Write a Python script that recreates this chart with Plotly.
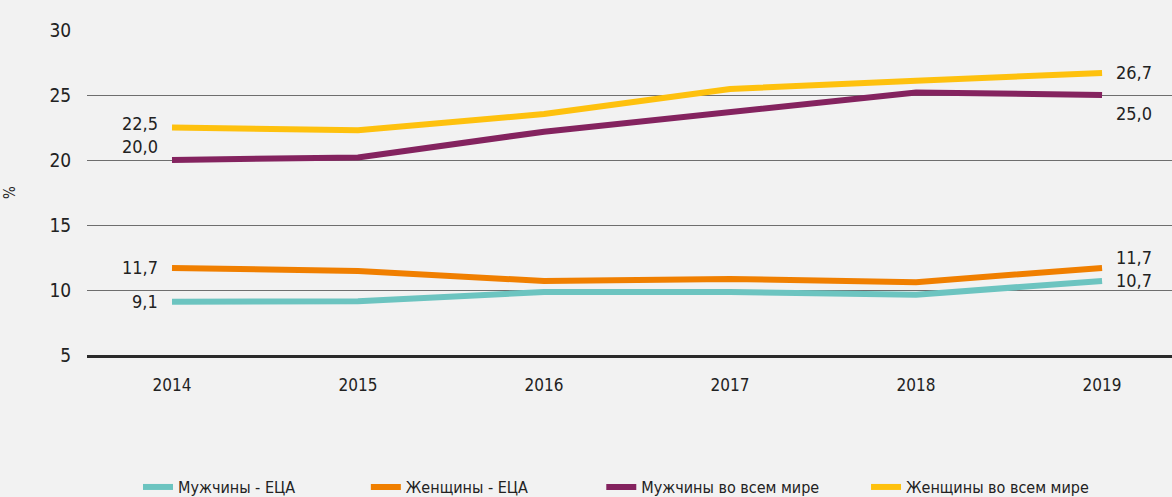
import plotly.graph_objects as go

years = [2014, 2015, 2016, 2017, 2018, 2019]
men_eca = [9.1, 9.13, 9.85, 9.85, 9.64, 10.7]
women_eca = [11.7, 11.46, 10.69, 10.85, 10.6, 11.7]
men_world = [20.0, 20.2, 22.18, 23.7, 25.2, 25.0]
women_world = [22.5, 22.28, 23.54, 25.46, 26.1, 26.7]

names = ["Мужчины - ЕЦА", "Женщины - ЕЦА", "Мужчины во всем мире", "Женщины во всем мире"]
colors = ["#6cc4c0", "#f07f00", "#84235f", "#fec10e"]
series = [men_eca, women_eca, men_world, women_world]
y_ticks = [5, 10, 15, 20, 25, 30]

FONT = "DejaVu Sans Condensed, DejaVu Sans, sans-serif"
TXT = "#222222"
BG = "#f2f2f2"

fig = go.Figure()
legends = ["legend", "legend2", "legend3", "legend4"]
for name, col, vals, lg in zip(names, colors, series, legends):
    fig.add_trace(go.Scatter(x=years, y=vals, mode="lines", name=name,
                             line=dict(color=col, width=6), legend=lg,
                             hoverinfo="skip"))

def fmt(v):
    return f"{v:.1f}".replace(".", ",")

# endpoint labels: yanchor, yshift
left_cfg = {0: ("middle", 0), 1: ("middle", 0), 2: ("bottom", 1), 3: ("middle", 4)}
right_cfg = {0: ("middle", 0), 1: ("middle", 10), 2: ("top", -6), 3: ("middle", 0)}
anns = []
for i, vals in enumerate(series):
    ya, ys = left_cfg[i]
    anns.append(dict(x=years[0], y=vals[0], text=fmt(vals[0]), showarrow=False,
                     xanchor="right", yanchor=ya, xshift=-12, yshift=ys,
                     font=dict(family=FONT, size=18, color=TXT)))
    ya, ys = right_cfg[i]
    anns.append(dict(x=years[-1], y=vals[-1], text=fmt(vals[-1]), showarrow=False,
                     xanchor="left", yanchor=ya, xshift=12, yshift=ys,
                     font=dict(family=FONT, size=18, color=TXT)))

leg_x = [0.047, 0.257, 0.474, 0.718]
layout_legends = {}
for lg, lx in zip(legends, leg_x):
    layout_legends[lg] = dict(x=lx, y=0.02, xanchor="left", yanchor="middle",
                              yref="container",
                              orientation="h", bgcolor="rgba(0,0,0,0)",
                              font=dict(family=FONT, size=16, color=TXT))

fig.update_layout(
    width=1172, height=497,
    paper_bgcolor=BG, plot_bgcolor=BG,
    margin=dict(l=87, r=0, t=30, b=142),
    font=dict(family=FONT, color=TXT),
    showlegend=True,
    annotations=anns,
    **layout_legends,
    xaxis=dict(range=[2013.543, 2019.376], tickvals=years, ticktext=[str(y) for y in years],
               showgrid=False, zeroline=False, showline=True, linecolor="#2a2a2a", linewidth=3,
               ticks="outside", ticklen=13, tickcolor="rgba(0,0,0,0)", automargin=False,
               tickfont=dict(family=FONT, size=17, color=TXT)),
    yaxis=dict(range=[5, 30], tickvals=y_ticks, showgrid=True, gridcolor="#6e6e6e", gridwidth=1,
               zeroline=False, ticks="outside", ticklen=11, tickcolor="rgba(0,0,0,0)",
               automargin=False,
               tickfont=dict(family=FONT, size=19, color=TXT),
               title=dict(text="%", font=dict(family=FONT, size=15, color=TXT), standoff=30)),
)

fig.write_html(
    "out.html",
    config={"displayModeBar": False},
    post_script="document.body.style.margin='0';document.body.style.background='#f2f2f2';"
                "document.documentElement.style.background='#f2f2f2';",
)
